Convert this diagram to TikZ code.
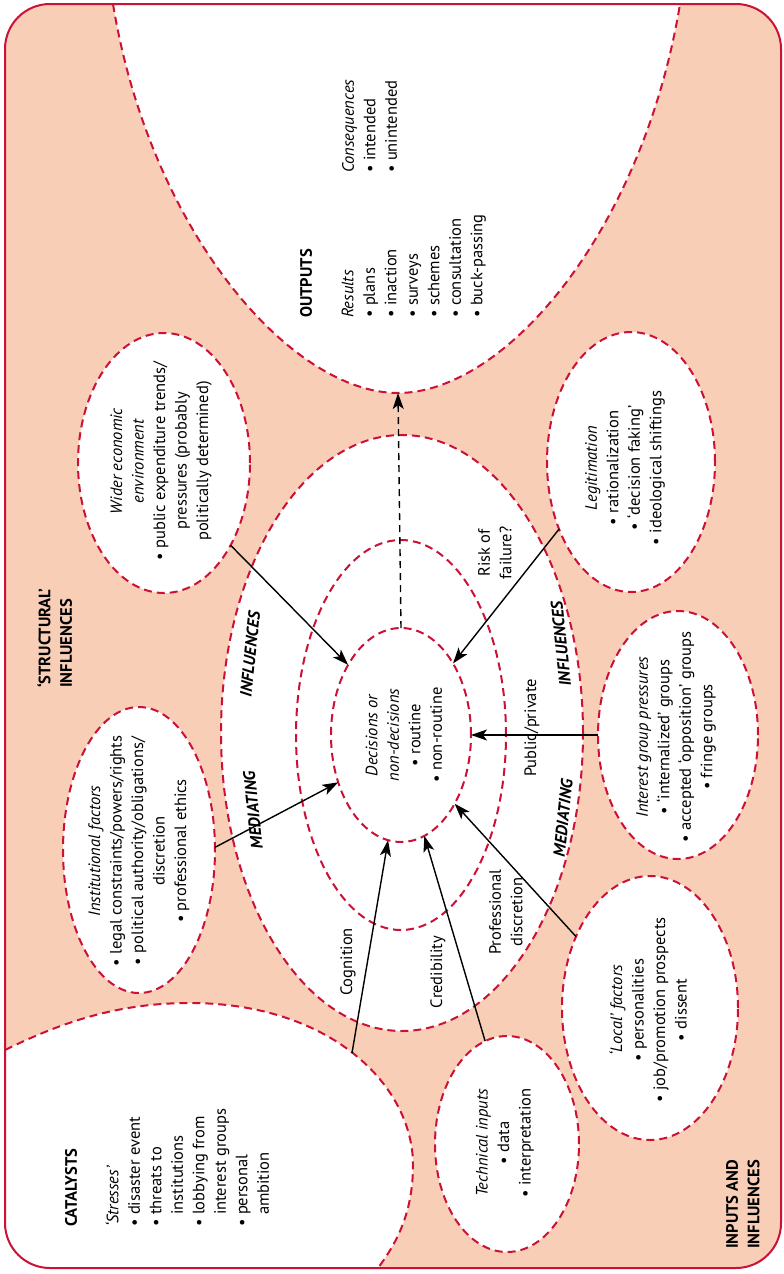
\documentclass[tikz,border=0pt]{standalone}
\usepackage{fontspec}
\setmainfont{PT Sans}
\usetikzlibrary{shapes.geometric,arrows.meta}
\definecolor{peach}{RGB}{248,206,183}
\definecolor{dred}{RGB}{204,16,54}
\newcommand{\dfs}{\fontsize{16.5}{21.5}\selectfont}
\newcommand{\bul}{\textbullet~}
\begin{document}
\begin{tikzpicture}[x=1pt,y=-1pt,
  dashred/.style={draw=dred, line width=2pt, dash pattern=on 8pt off 5pt},
  bubble/.style={ellipse, dashred, fill=white, inner sep=0pt, outer sep=0pt},
  ring/.style={ellipse, dashred, inner sep=0pt, outer sep=0pt},
  txt/.style={rotate=90, align=center, font=\dfs, inner sep=0pt},
  lefttxt/.style={rotate=90, align=left, font=\dfs, inner sep=0pt},
  medtxt/.style={font=\dfs\bfseries\itshape, inner sep=0pt},
  arr/.style={-{Stealth[length=16pt,width=11pt,inset=4pt]}, line width=1.4pt, black},
  darr/.style={arr, dash pattern=on 7pt off 5pt}
]
\path[use as bounding box] (0,0) rectangle (784,1274);
\begin{scope}
  \clip[rounded corners=45pt] (5,4) rectangle (781,1268);
  \fill[peach] (0,0) rectangle (784,1274);
  \fill[white] (113,-5) -- (113,4) .. controls (150,230) and (290,393) .. (398,393)
     .. controls (506,393) and (643,230) .. (680,4) -- (680,-5) -- cycle;
  \draw[dashred] (113,4) .. controls (150,230) and (290,393) .. (398,393)
     .. controls (506,393) and (643,230) .. (680,4);
  \fill[white] (-5,1050) -- (5,1050) .. controls (70,1018) and (125,1003) .. (190,1003)
     .. controls (330,1003) and (413,1085) .. (413,1165)
     .. controls (413,1215) and (395,1245) .. (378,1268) -- (378,1290) -- (-5,1290) -- cycle;
  \draw[dashred] (5,1050) .. controls (70,1018) and (125,1003) .. (190,1003)
     .. controls (330,1003) and (413,1085) .. (413,1165)
     .. controls (413,1215) and (395,1245) .. (378,1268);
\end{scope}
\coordinate (catTop) at (352,1053);
\coordinate (outBot) at (398,393);

% mediating rings
\node[bubble, minimum width=362pt, minimum height=596pt] (outer) at (402,733) {};
\node[ring, minimum width=210pt, minimum height=390pt] (middle) at (401,735) {};
\node[ring, minimum width=140pt, minimum height=214pt] (inner) at (401,735) {};

% surrounding bubbles
\node[bubble, minimum width=172pt, minimum height=260pt] (wider) at (164,463) {};
\node[bubble, minimum width=152pt, minimum height=286pt] (inst) at (139,850) {};
\node[bubble, minimum width=168pt, minimum height=260pt] (legit) at (631,462) {};
\node[bubble, minimum width=160pt, minimum height=248pt] (interest) at (678,735) {};
\node[bubble, minimum width=176pt, minimum height=264pt] (local) at (650,1008) {};
\node[bubble, minimum width=144pt, minimum height=216pt] (tech) at (507,1144) {};

% arrows
\draw[arr] (wider.-51) -- (inner.127);
\draw[arr] (legit.223) -- (inner.54);
\draw[arr] (interest.west) -- (inner.east);
\draw[arr] (inst.2) -- (inner.217);
\draw[arr] (local.136) -- (inner.-52);
\draw[arr] (catTop) -- (inner.263);
\draw[arr] (tech.102) -- (inner.-77);
\draw[darr] (inner.north) -- (outBot);

% texts in bubbles
\node[txt] (centerT) at (404,735) {\textit{Decisions or}\\ \textit{non-decisions}\\ \bul routine\\ \bul non-routine};
\node[txt] (widerT) at (161,461) {\textit{Wider economic}\\ \textit{environment}\\ \bul public expenditure trends/\\ pressures (probably\\ politically determined)};
\node[txt] (instT) at (139,851) {\textit{Institutional factors}\\ \bul legal constraints/powers/rights\\ \bul political authority/obligations/\\ discretion\\ \bul professional ethics};
\node[txt] (legitT) at (625,468) {\textit{Legitimation}\\ \bul rationalization\\ \bul ‘decision faking’\\ \bul ideological shiftings};
\node[txt] (interestT) at (676,737) {\textit{Interest group pressures}\\ \bul ‘internalized’ groups\\ \bul accepted ‘opposition’ groups\\ \bul fringe groups};
\node[txt] (localT) at (648,1010) {\textit{‘Local’ factors}\\ \bul personalities\\ \bul job/promotion prospects\\ \bul dissent};
\node[txt] (techT) at (505,1143) {\textit{Technical inputs}\\ \bul data\\ \bul interpretation};

% connector labels
\node[txt] (riskL) at (495,553) {Risk of\\ failure?};
\node[txt] (pubL) at (532,728) {Public/private};
\node[txt] (cogL) at (348,962) {Cognition};
\node[txt] (credL) at (438,972) {Credibility};
\node[txt] (profL) at (506,912) {Professional\\ discretion};

% mediating influences
\node[medtxt, rotate=84] (mi1) at (250,654) {INFLUENCES};
\node[medtxt, rotate=96] (mi2) at (253,810) {MEDIATING};
\node[medtxt, rotate=96] (mi3) at (561,644) {INFLUENCES};
\node[medtxt, rotate=84] (mi4) at (563,818) {MEDIATING};

% headings
\node[lefttxt, anchor=north west] (outputsT) at (300,318) {\textbf{OUTPUTS}\\[20pt] \textit{Results}\\ \bul plans\\ \bul inaction\\ \bul surveys\\ \bul schemes\\ \bul consultation\\ \bul buck-passing};
\node[lefttxt, anchor=north west] (consT) at (342,173) {\textit{Consequences}\\ \bul intended\\ \bul unintended};
\node[lefttxt, anchor=north west] (catT) at (65,1227) {\textbf{CATALYSTS}\\[20pt] \textit{‘Stresses’}\\ \bul disaster event\\ \bul threats to\\ \hphantom{\bul}institutions\\ \bul lobbying from\\ \hphantom{\bul}interest groups\\ \bul personal\\ \hphantom{\bul}ambition};
\node[lefttxt, anchor=north west, font=\dfs\bfseries] (structT) at (37,688) {‘STRUCTURAL’\\ INFLUENCES};
\node[lefttxt, anchor=north west, font=\dfs\bfseries] (inputsT) at (726,1249) {INPUTS AND\\ INFLUENCES};

% frame
\draw[dred, line width=2pt, rounded corners=45pt] (5,4) rectangle (781,1268);
\end{tikzpicture}
\end{document}
